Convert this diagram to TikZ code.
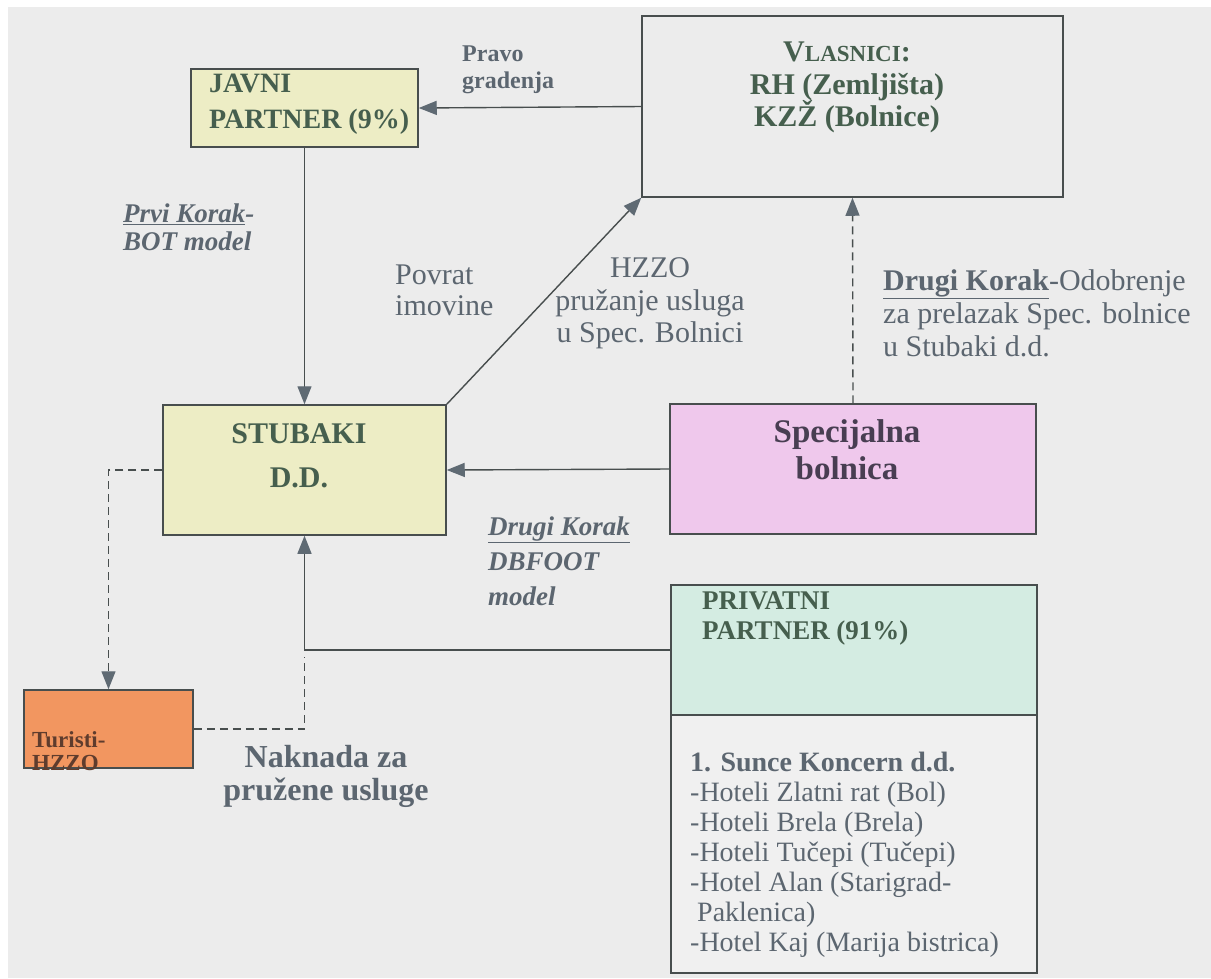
\documentclass[tikz,border=0pt]{standalone}
\usepackage{fontspec}
\setmainfont{Liberation Serif}
\usetikzlibrary{arrows.meta}
\definecolor{bgc}{RGB}{236,236,236}
\definecolor{yelc}{RGB}{237,237,197}
\definecolor{pinkc}{RGB}{239,200,236}
\definecolor{mintc}{RGB}{212,236,226}
\definecolor{lowc}{RGB}{240,240,240}
\definecolor{orngc}{RGB}{242,150,96}
\definecolor{edgec}{RGB}{72,78,78}
\definecolor{tipc}{RGB}{95,106,115}
\definecolor{boxtxt}{RGB}{70,95,78}
\definecolor{spectxt}{RGB}{72,62,82}
\definecolor{turtxt}{RGB}{95,60,45}
\definecolor{lblc}{RGB}{92,102,112}
\begin{document}
\begin{tikzpicture}[x=1pt,y=-1pt]
\tikzstyle{every node}+=[inner sep=0pt]
\tikzset{box/.style={draw=edgec,line width=1.5pt},
  conn/.style={draw=edgec,line width=1.4pt,-{Triangle[length=18pt,width=14pt,color=tipc,fill=tipc]}},
  dconn/.style={conn,dash pattern=on 8pt off 5pt},
  lbl/.style={text=lblc,align=left}}
\useasboundingbox (0,0) rectangle (1211,978);
\fill [bgc] (8,7) rectangle (1211,978);
\node [box,fill=yelc,minimum width=227pt,minimum height=78pt] (javni) at (304.5,108) {};
\node [box,minimum width=421pt,minimum height=181pt] (vlas) at (852.5,106.5) {};
\node [box,fill=yelc,minimum width=283pt,minimum height=130pt] (stub) at (304.5,470) {};
\node [box,fill=pinkc,minimum width=366pt,minimum height=130pt] (spec) at (853,469) {};
\node [box,fill=mintc,minimum width=366pt,minimum height=130pt] (priv) at (854,650) {};
\node [box,fill=lowc,minimum width=366pt,minimum height=258pt] (hotel) at (854,844) {};
\node [box,fill=orngc,minimum width=169pt,minimum height=78pt] (turi) at (108.5,729) {};
\node [text=boxtxt,align=left,anchor=west,font=\fontsize{28}{36}\selectfont\bfseries] (javtxt) at (209,104) {JAVNI\\PARTNER (9\%)};
\node [text=boxtxt,align=center,font=\fontsize{30}{32.5}\selectfont\bfseries] (vlastxt) at (847,87.5) {V{\fontsize{23}{32.5}\selectfont LASNICI}:\\RH (Zemljišta)\\KZŽ (Bolnice)};
\node [text=boxtxt,align=center,font=\fontsize{30}{44}\selectfont\bfseries] (stubtxt) at (299,456) {STUBAKI\\D.D.};
\node [text=spectxt,align=center,font=\fontsize{33}{37}\selectfont\bfseries] (spectxt) at (847,450) {Specijalna\\bolnica};
\node [text=boxtxt,align=left,anchor=west,font=\fontsize{27}{30}\selectfont\bfseries] (privtxt) at (702,618) {PRIVATNI\\PARTNER (91\%)};
\node [text=lblc,align=left,anchor=west,font=\fontsize{28}{30}\selectfont] (hoteltxt) at (690,855) {{\bfseries 1. Sunce Koncern d.d.}\\-Hoteli Zlatni rat (Bol)\\-Hoteli Brela (Brela)\\-Hoteli Tučepi (Tučepi)\\-Hotel Alan (Starigrad-\\\hspace*{7pt}Paklenica)\\-Hotel Kaj (Marija bistrica)};
\node [text=turtxt,align=left,anchor=west,font=\fontsize{23}{23}\selectfont\bfseries] (turtxt) at (32,751) {Turisti-\\HZZO};
\node [lbl,anchor=west,font=\fontsize{24}{27}\selectfont\bfseries] (pravo) at (462,70) {Pravo\\gradenja};
\node [lbl,anchor=west,font=\fontsize{27}{28}\selectfont\bfseries\itshape] (prvi) at (123,227) {\underline{Prvi Korak}-\\BOT model};
\node [lbl,anchor=west,font=\fontsize{30}{31}\selectfont] (povrat) at (395,290) {Povrat\\imovine};
\node [lbl,align=center,font=\fontsize{30}{32.5}\selectfont] (hzzo) at (650,303.5) {HZZO\\pružanje usluga\\u Spec. Bolnici};
\node [lbl,anchor=west,font=\fontsize{30}{33}\selectfont] (odobr) at (883,313) {\underline{\textbf{Drugi Korak}}-Odobrenje\\za prelazak Spec. bolnice\\u Stubaki d.d.};
\node [lbl,anchor=west,font=\fontsize{27}{35}\selectfont\bfseries\itshape] (dbfoot) at (488,561) {\underline{Drugi Korak}\\DBFOOT\\model};
\node [lbl,align=center,font=\fontsize{32}{33}\selectfont\bfseries] (naknada) at (326,776.5) {Naknada za\\pružene usluge};
\coordinate (nakend) at (304.5,657);
\draw [conn] (vlas.west) -- (javni.east);
\draw [conn] (javni.south) -- (stub.north);
\draw [conn] (stub.north east) -- (vlas.south west);
\draw [dconn] (spec.north) -- (vlas.south);
\draw [conn] (spec.west) -- (stub.east);
\draw [conn] (priv.west) -- (stub.south |- priv.west) -- (stub.south);
\draw [dconn] (stub.west) -- (turi.north |- stub.west) -- (turi.north);
\draw [dconn,-] (turi.east) -- (nakend |- turi.east) -- (nakend);
\end{tikzpicture}
\end{document}
